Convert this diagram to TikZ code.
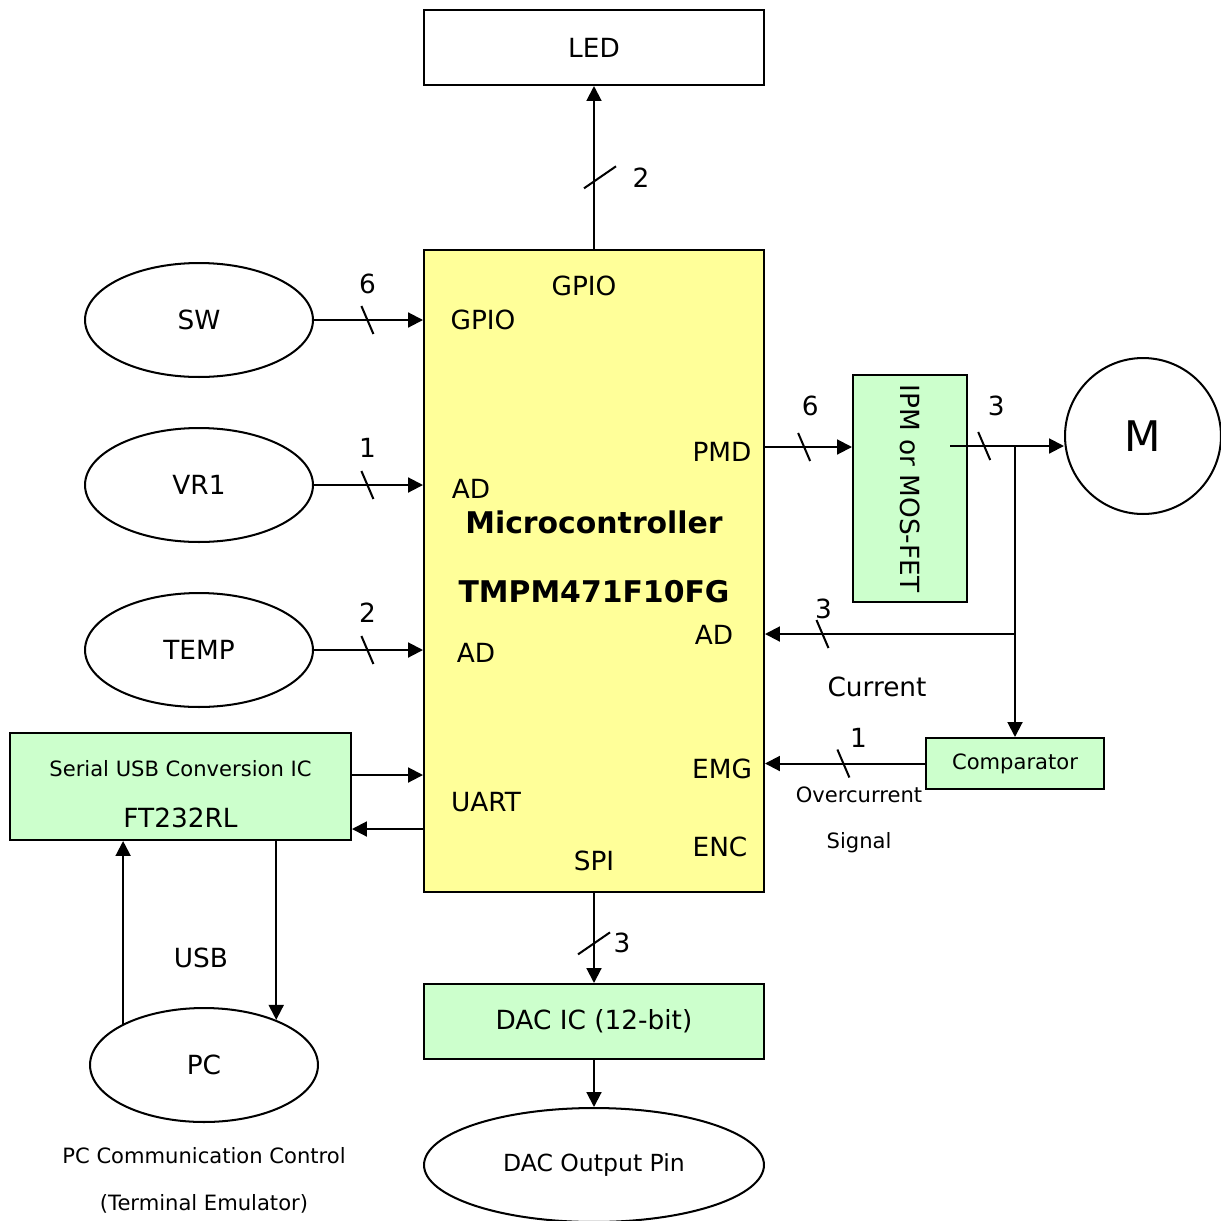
\documentclass[tikz,border=0pt]{standalone}
\usepackage{fontspec}
\setmainfont{DejaVu Sans}
\usetikzlibrary{shapes.geometric,arrows.meta,calc,positioning}

\definecolor{mcuyellow}{HTML}{FFFF99}
\definecolor{blockgreen}{HTML}{CCFFCC}

% bus width marks on a connector
\newcommand{\busmark}[1]{\draw ($(#1)+(-6,-14)$) -- ($(#1)+(6,14)$);}
\newcommand{\busmarkv}[1]{\draw ($(#1)+(-16,11)$) -- ($(#1)+(16,-11)$);}

\begin{document}
\begin{tikzpicture}[x=0.02cm, y=-0.02cm, line width=1.15pt,
    font=\fontsize{15}{18}\selectfont,
    box/.style={draw, rectangle, minimum width=6.8cm, minimum height=1.5cm, inner sep=0pt},
    gbox/.style={box, fill=blockgreen},
    oval/.style={draw, ellipse, minimum width=4.56cm, minimum height=2.28cm, inner sep=0pt},
    sig/.style={-{Triangle[length=8.5pt,width=8.5pt]}},
    small/.style={font=\fontsize{12}{14}\selectfont},
    bigbold/.style={font=\fontsize{17}{20}\selectfont\bfseries}]
    \useasboundingbox (0,0) rectangle (1221,1221);

    % blocks
    \node[box] (led) at (594,47.5) {LED};
    \node[box, fill=mcuyellow, minimum height=12.84cm] (mcu) at (594,571) {};
    \node[gbox, minimum width=2.28cm, minimum height=4.54cm] (ipm) at (910,488.5) {};
    \node[rotate=-90] (ipmtxt) at (ipm.center) {IPM or MOS-FET};
    \node[draw, circle, minimum size=3.12cm, inner sep=0pt, font=\fontsize{24}{28}\selectfont] (motor) at (1143,436) {M};
    \node[gbox, small, minimum width=3.56cm, minimum height=1.02cm] (comp) at (1015,763.5) {Comparator};
    \node[gbox, minimum width=6.82cm, minimum height=2.14cm] (usbic) at (180.5,786.5) {};
    \node[small] (usbname) at (180.5,769) {Serial USB Conversion IC};
    \node (usbpart) at (180.5,818) {FT232RL};
    \node[gbox] (dac) at (594,1021.5) {DAC IC (12-bit)};

    \node[oval] (sw) at (199,320) {SW};
    \node[oval] (vr) at (199,485) {VR1};
    \node[oval] (temp) at (199,650) {TEMP};
    \node[oval] (pc) at (204,1065) {PC};
    \node[oval, font=\fontsize{13.4}{16}\selectfont, minimum width=6.8cm] (dacout) at (594,1165) {DAC Output Pin};

    % microcontroller pins
    \node (gpiotop) at (584,286) {GPIO};
    \node (gpioin) at (483,320) {GPIO};
    \node (advr) at (471,489) {AD};
    \node (adtemp) at (476,653) {AD};
    \node[bigbold] (mcuname) at (594,522) {Microcontroller};
    \node[bigbold] (mcupart) at (594,592) {TMPM471F10FG};
    \node (pmd) at (722,452) {PMD};
    \node (adcur) at (714,635) {AD};
    \node (emg) at (722,769) {EMG};
    \node (uart) at (486,802) {UART};
    \node (enc) at (720,847) {ENC};
    \node (spi) at (594,861) {SPI};

    % LED
    \draw[sig] (mcu.north) -- coordinate[pos=.44] (bled) (led.south);
    \coordinate (bledm) at ($(bled)+(6,0)$);
    \busmarkv{bledm}
    \node (nled) at ($(bled)+(47,0)$) {2};

    % inputs
    \draw[sig] (sw.east) -- coordinate[pos=.49] (bsw) (sw.east -| mcu.west);
    \busmark{bsw}
    \node (nsw) at ($(bsw)+(0,-36)$) {6};
    \draw[sig] (vr.east) -- coordinate[pos=.49] (bvr) (vr.east -| mcu.west);
    \busmark{bvr}
    \node (nvr) at ($(bvr)+(0,-37)$) {1};
    \draw[sig] (temp.east) -- coordinate[pos=.49] (btemp) (temp.east -| mcu.west);
    \busmark{btemp}
    \node (ntemp) at ($(btemp)+(0,-37)$) {2};

    % motor drive
    \coordinate (pmdy) at (0,447);
    \draw[sig] (mcu.east |- pmdy) -- coordinate[pos=.45] (bpmd) (ipm.west |- pmdy);
    \busmark{bpmd}
    \node (npmd) at ($(bpmd)+(6,-41)$) {6};
    \coordinate (ipmout) at (950,446);
    \coordinate (split) at (1015,446);
    \draw[sig] (ipmout) -- coordinate[pos=.3] (bout) (motor.west |- ipmout);
    \busmark{bout}
    \node (nout) at ($(bout)+(12,-40)$) {3};
    \draw[sig] (split) -- (comp.north);

    % current feedback
    \coordinate (tap) at (1015,634);
    \draw[sig] (tap) -- coordinate[pos=.77] (bcur) (mcu.east |- tap);
    \busmark{bcur}
    \node (ncur) at ($(bcur)+(1,-25)$) {3};
    \node (curtxt) at (877,687) {Current};
    \draw[sig] (comp.west) -- coordinate[pos=.51] (bemg) (mcu.east |- comp.west);
    \busmark{bemg}
    \node (nemg) at ($(bemg)+(15,-26)$) {1};
    \node[small] (ovctxt) at (859,795) {Overcurrent};
    \node[small] (sigtxt) at (859,843) {Signal};

    % UART / USB
    \coordinate (txy) at (0,775);
    \coordinate (rxy) at (0,829);
    \draw[sig] (usbic.east |- txy) -- (mcu.west |- txy);
    \draw[sig] (mcu.west |- rxy) -- (usbic.east |- rxy);
    \draw[sig] (pc.153) -- (pc.153 |- usbic.south);
    \draw[sig] (usbic.south -| pc.32) -- (pc.32);
    \node (usbtxt) at (201,958) {USB};
    \node[small] (pccomm) at (204,1156) {PC Communication Control};
    \node[small] (pcterm) at (204,1204) {(Terminal Emulator)};

    % DAC
    \draw[sig] (mcu.south) -- coordinate[pos=.56] (bspi) (dac.north);
    \busmarkv{bspi}
    \node (nspi) at ($(bspi)+(28,0)$) {3};
    \draw[sig] (dac.south) -- (dacout.north);
\end{tikzpicture}
\end{document}
